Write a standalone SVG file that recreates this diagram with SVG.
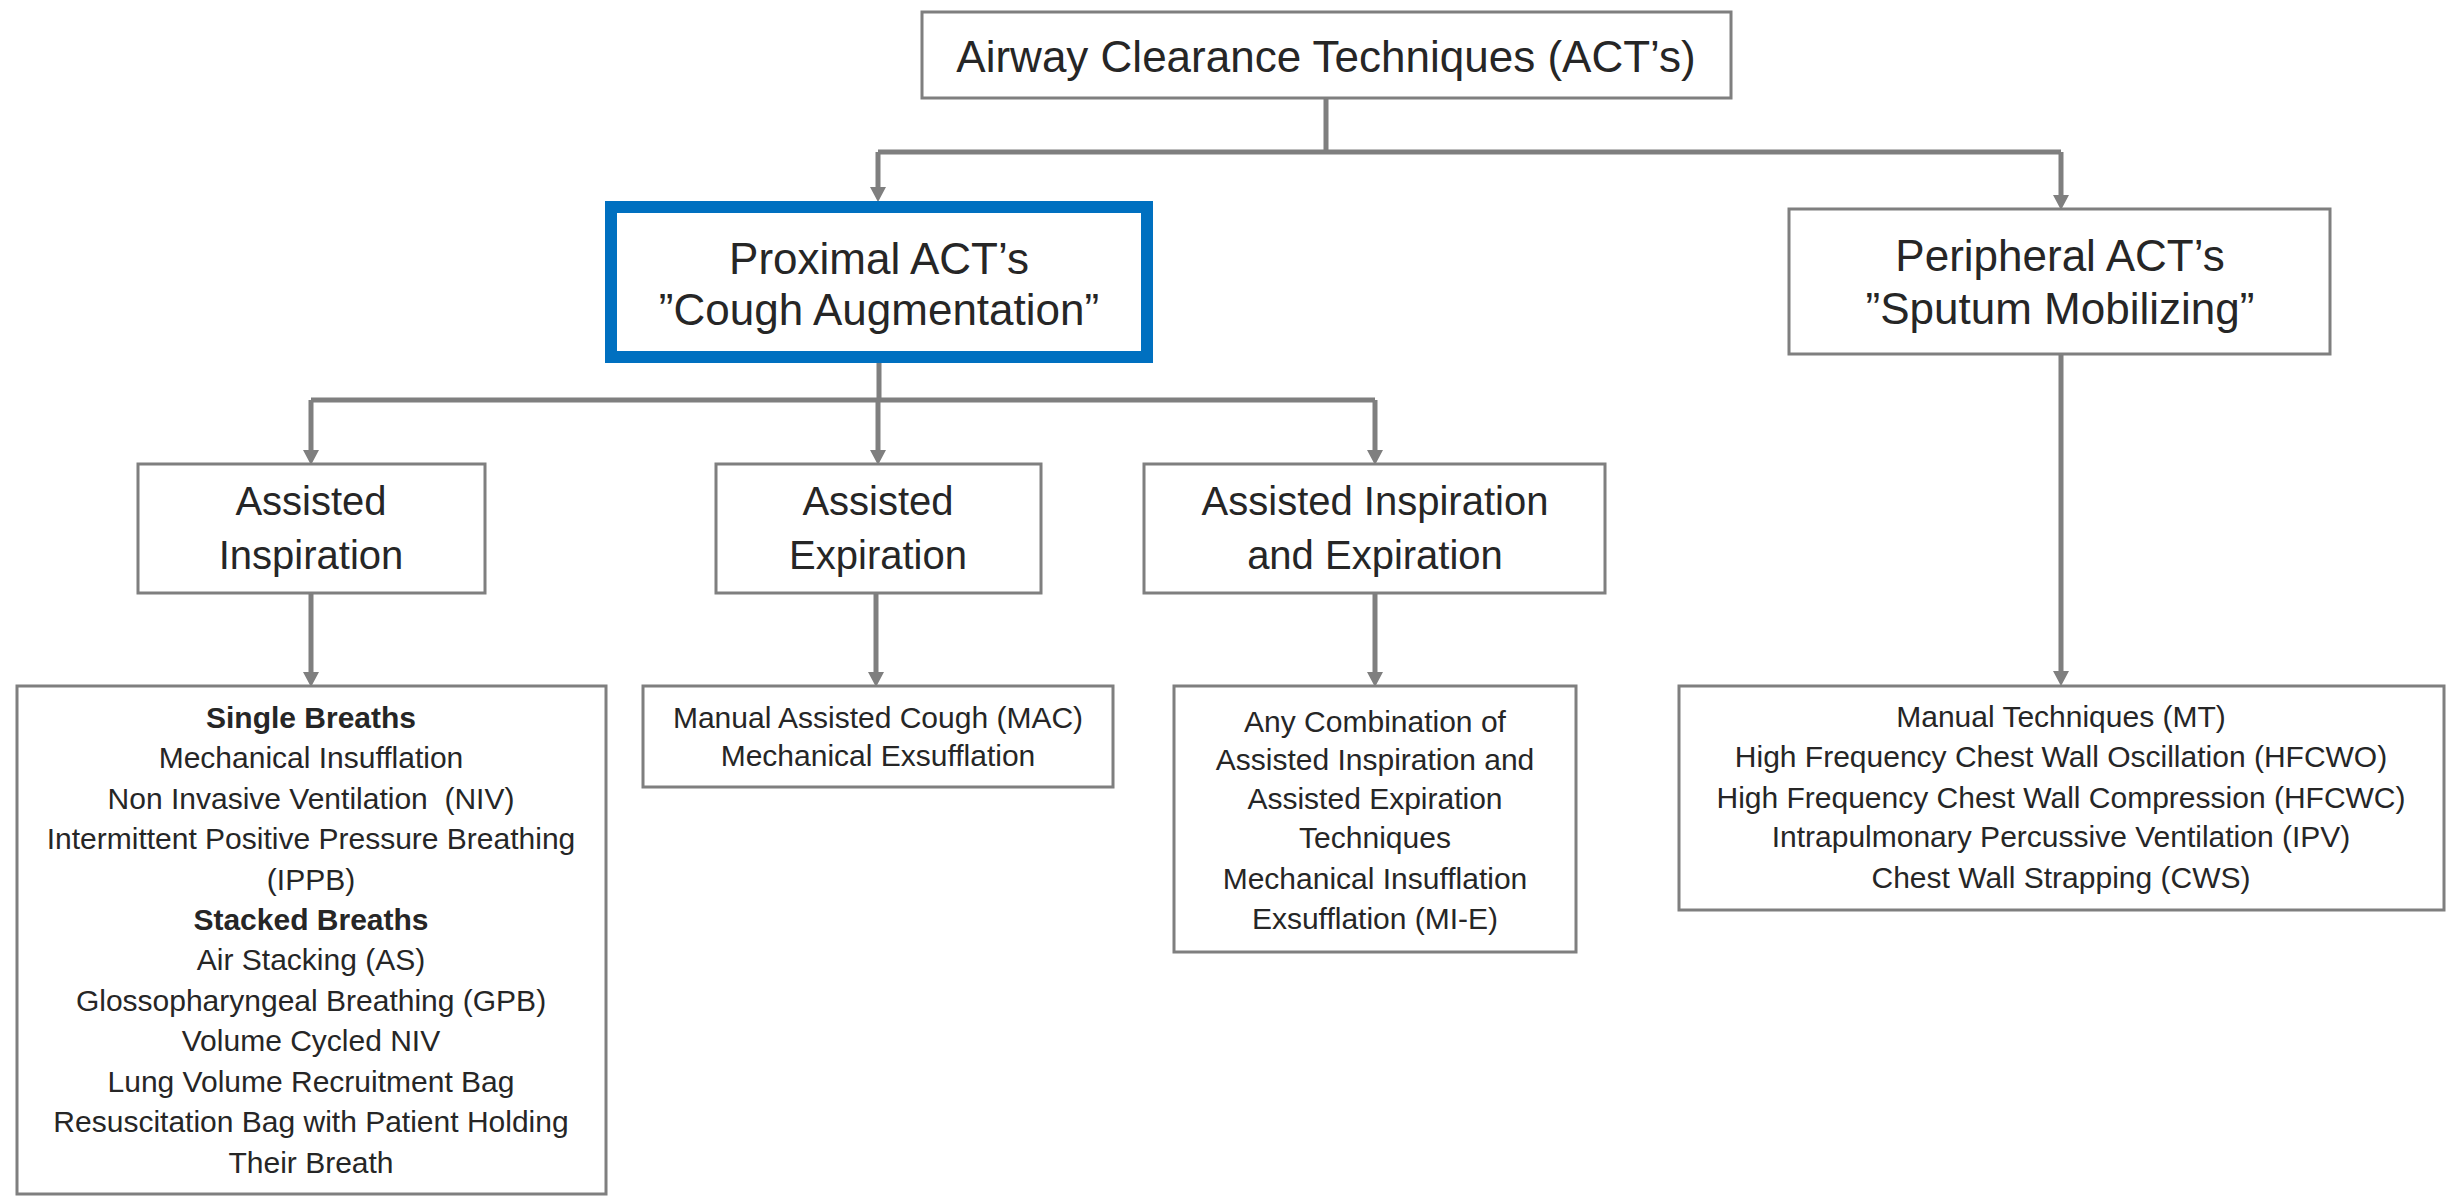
<svg xmlns="http://www.w3.org/2000/svg" width="2450" height="1198" viewBox="0 0 2450 1198">
<defs>
<marker id="arr" markerUnits="userSpaceOnUse" markerWidth="16" markerHeight="18" refX="6" refY="9" orient="auto">
<path d="M0,1 L15,9 L0,17 z" fill="#7f7f7f"/>
</marker>
<style>
.box{fill:#ffffff;stroke:#7f7f7f;stroke-width:3}
.blue{fill:#ffffff;stroke:#0070c0;stroke-width:12}
.con{fill:none;stroke:#7f7f7f;stroke-width:5}
.arrow{fill:none;stroke:#7f7f7f;stroke-width:5;marker-end:url(#arr)}
text{font-family:"Liberation Sans",Arial,sans-serif;fill:#262626;text-anchor:middle}
.big{font-size:44px}
.mid{font-size:40px}
.sm{font-size:30px}
.b{font-weight:bold}
</style>
</defs>
<rect width="2450" height="1198" fill="#ffffff"/>
<g id="connectors">
<path class="con" d="M1326,98 V152 M878,152 H2061 M879,363 V400 M311,400 H1375"/>
<path class="arrow" d="M878,152 V193"/>
<path class="arrow" d="M2061,152 V201"/>
<path class="arrow" d="M311,400 V456"/>
<path class="arrow" d="M878,400 V456"/>
<path class="arrow" d="M1375,400 V456"/>
<path class="arrow" d="M311,593 V678"/>
<path class="arrow" d="M876,593 V678"/>
<path class="arrow" d="M1375,593 V678"/>
<path class="arrow" d="M2061,354 V677"/>
</g>
<g id="root">
<rect class="box" x="922" y="12" width="809" height="86"/>
<text class="big" x="1326" y="72">Airway Clearance Techniques (ACT’s)</text>
</g>
<g id="proximal">
<rect class="blue" x="611" y="207" width="536" height="150"/>
<text class="big" x="879" y="274">Proximal ACT’s</text>
<text class="big" x="879" y="325">”Cough Augmentation”</text>
</g>
<g id="peripheral">
<rect class="box" x="1789" y="209" width="541" height="145"/>
<text class="big" x="2060" y="271">Peripheral ACT’s</text>
<text class="big" x="2060" y="324">”Sputum Mobilizing”</text>
</g>
<g id="assisted-inspiration">
<rect class="box" x="138" y="464" width="347" height="129"/>
<text class="mid" x="311" y="515">Assisted</text>
<text class="mid" x="311" y="569">Inspiration</text>
</g>
<g id="assisted-expiration">
<rect class="box" x="716" y="464" width="325" height="129"/>
<text class="mid" x="878" y="515">Assisted</text>
<text class="mid" x="878" y="569">Expiration</text>
</g>
<g id="assisted-insp-exp">
<rect class="box" x="1144" y="464" width="461" height="129"/>
<text class="mid" x="1375" y="515">Assisted Inspiration</text>
<text class="mid" x="1375" y="569">and Expiration</text>
</g>
<g id="inspiration-list">
<rect class="box" x="17" y="686" width="589" height="508"/>
<text class="sm b" x="311" y="728">Single Breaths</text>
<text class="sm" x="311" y="768">Mechanical Insufflation</text>
<text class="sm" x="311" y="809">Non Invasive Ventilation&#160; (NIV)</text>
<text class="sm" x="311" y="849">Intermittent Positive Pressure Breathing</text>
<text class="sm" x="311" y="890">(IPPB)</text>
<text class="sm b" x="311" y="930">Stacked Breaths</text>
<text class="sm" x="311" y="970">Air Stacking (AS)</text>
<text class="sm" x="311" y="1011">Glossopharyngeal Breathing (GPB)</text>
<text class="sm" x="311" y="1051">Volume Cycled NIV</text>
<text class="sm" x="311" y="1092">Lung Volume Recruitment Bag</text>
<text class="sm" x="311" y="1132">Resuscitation Bag with Patient Holding</text>
<text class="sm" x="311" y="1173">Their Breath</text>
</g>
<g id="expiration-list">
<rect class="box" x="643" y="686" width="470" height="101"/>
<text class="sm" x="878" y="728">Manual Assisted Cough (MAC)</text>
<text class="sm" x="878" y="766">Mechanical Exsufflation</text>
</g>
<g id="insp-exp-list">
<rect class="box" x="1174" y="686" width="402" height="266"/>
<text class="sm" x="1375" y="732">Any Combination of</text>
<text class="sm" x="1375" y="770">Assisted Inspiration and</text>
<text class="sm" x="1375" y="809">Assisted Expiration</text>
<text class="sm" x="1375" y="848">Techniques</text>
<text class="sm" x="1375" y="889">Mechanical Insufflation</text>
<text class="sm" x="1375" y="929">Exsufflation (MI-E)</text>
</g>
<g id="peripheral-list">
<rect class="box" x="1679" y="686" width="765" height="224"/>
<text class="sm" x="2061" y="727">Manual Techniques (MT)</text>
<text class="sm" x="2061" y="767">High Frequency Chest Wall Oscillation (HFCWO)</text>
<text class="sm" x="2061" y="808">High Frequency Chest Wall Compression (HFCWC)</text>
<text class="sm" x="2061" y="847">Intrapulmonary Percussive Ventilation (IPV)</text>
<text class="sm" x="2061" y="888">Chest Wall Strapping (CWS)</text>
</g>
</svg>
